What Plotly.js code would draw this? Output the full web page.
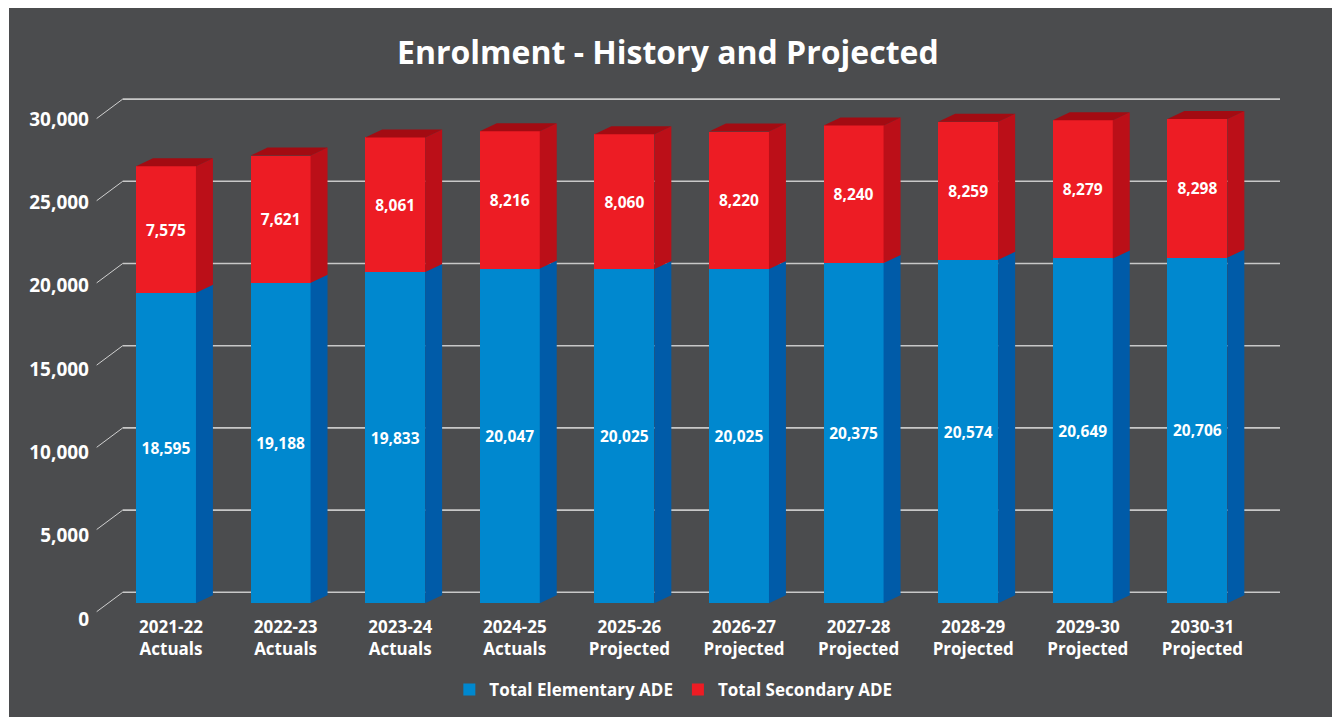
<!DOCTYPE html>
<html>
<head>
<meta charset="utf-8">
<script src="https://cdn.plot.ly/plotly-3.0.1.min.js"></script>
<style>
  html, body { margin: 0; padding: 0; background: #ffffff; }
  #chart { position: absolute; left: 9px; top: 8px; width: 1323px; height: 709px; }
</style>
</head>
<body>
<div id="chart"></div>
<script>
// ---- data ----
const categories = ['2021-22','2022-23','2023-24','2024-25','2025-26','2026-27','2027-28','2028-29','2029-30','2030-31'];
const periodTypes = ['Actuals','Actuals','Actuals','Actuals','Projected','Projected','Projected','Projected','Projected','Projected'];
const elementary = [18595, 19188, 19833, 20047, 20025, 20025, 20375, 20574, 20649, 20706];
const secondary  = [7575, 7621, 8061, 8216, 8060, 8220, 8240, 8259, 8279, 8298];
const yTickValues = [0, 5000, 10000, 15000, 20000, 25000, 30000];
const seriesNames = ['Total Elementary ADE', 'Total Secondary ADE'];

// ---- styling ----
const BG = '#4b4c4e';
const BLUE = '#0088cf', BLUE_SIDE = '#005ba8';
const RED = '#ed1c24', RED_SIDE = '#bb0f18', RED_TOP = '#a30b12';
const FONT = 'Open Sans, Lato, sans-serif';
const BAR_W = 0.523;   // bar width in category units
const DX = 0.148;      // 3D depth, x (category units)
const DY = 479;        // 3D depth, y (value units)

const xIdx = categories.map((c, i) => i);
const tickText = categories.map((c, i) => c + '<br>' + periodTypes[i]);
const totals = elementary.map((e, i) => e + secondary[i]);

// 3D faces built from the data
const blueSideX = [], blueSideY = [], redSideX = [], redSideY = [], topX = [], topY = [];
xIdx.forEach(i => {
  const xr = i + BAR_W / 2, xl = i - BAR_W / 2;
  const e = elementary[i], t = totals[i];
  blueSideX.push(xr, xr + DX, xr + DX, xr, xr, null);
  blueSideY.push(0, DY, e + DY, e, 0, null);
  redSideX.push(xr, xr + DX, xr + DX, xr, xr, null);
  redSideY.push(e, e + DY, t + DY, t, e, null);
  topX.push(xl, xr, xr + DX, xl + DX, xl, null);
  topY.push(t, t, t + DY, t + DY, t, null);
});

const labelFont = {family: FONT, size: 15.5, color: '#ffffff', weight: 700};

const traces = [
  {type: 'bar', name: seriesNames[0], x: xIdx, y: elementary, width: BAR_W,
   marker: {color: BLUE, line: {width: 0}},
   texttemplate: '%{y:,}', textposition: 'inside', insidetextanchor: 'middle',
   textangle: 0, constraintext: 'none', textfont: labelFont, hoverinfo: 'skip'},
  {type: 'bar', name: seriesNames[1], x: xIdx, y: secondary, width: BAR_W,
   marker: {color: RED, line: {width: 0}},
   texttemplate: '%{y:,}', textposition: 'inside', insidetextanchor: 'middle',
   textangle: 0, constraintext: 'none', textfont: labelFont, hoverinfo: 'skip'},
  {type: 'scatter', mode: 'none', x: blueSideX, y: blueSideY, fill: 'toself',
   fillcolor: BLUE_SIDE, showlegend: false, hoverinfo: 'skip'},
  {type: 'scatter', mode: 'none', x: redSideX, y: redSideY, fill: 'toself',
   fillcolor: RED_SIDE, showlegend: false, hoverinfo: 'skip'},
  {type: 'scatter', mode: 'none', x: topX, y: topY, fill: 'toself',
   fillcolor: RED_TOP, showlegend: false, hoverinfo: 'skip'},
  // empty trace so that the tick-label axis (y2) gets its own subplot and is drawn
  {type: 'scatter', mode: 'none', x: [], y: [], yaxis: 'y2', showlegend: false, hoverinfo: 'skip'}
];

// back-wall gridlines + floor diagonals
const shapes = [];
yTickValues.forEach(v => {
  shapes.push({type: 'line', layer: 'below', xref: 'paper', yref: 'y3',
    x0: 0.0233, x1: 0.9958, y0: v, y1: v, line: {color: '#c8c8c8', width: 1.6}});
  shapes.push({type: 'line', layer: 'below', xref: 'paper', yref: 'y3',
    x0: 0.0014, x1: 0.0233, y0: v - 1180, y1: v, line: {color: '#d0d0d0', width: 1}});
});

const layout = {
  width: 1323, height: 709,
  paper_bgcolor: BG, plot_bgcolor: BG,
  margin: {l: 86, r: 47, t: 82, b: 92, autoexpand: false},
  barmode: 'stack',
  showlegend: true,
  title: {text: 'Enrolment - History and Projected', xref: 'container', yref: 'container',
          x: 0.498, xanchor: 'center', y: 0.9365, yanchor: 'middle',
          font: {family: FONT, size: 32, color: '#ffffff', weight: 700}},
  xaxis: {type: 'linear', range: [-0.6195, 9.7644], tickvals: xIdx, ticktext: tickText,
          showgrid: false, zeroline: false, showline: false, ticks: '',
          ticklabelshift: 5, ticklabelstandoff: -10,
          tickfont: {family: FONT, size: 17, color: '#ffffff', weight: 700}, fixedrange: true},
  yaxis: {range: [-1299, 30737], showgrid: false, zeroline: false, showline: false,
          showticklabels: false, ticks: '', fixedrange: true},
  yaxis2: {overlaying: 'y', side: 'left', anchor: 'x', range: [-360, 31740], tickmode: 'array',
           tickvals: yTickValues, tickformat: ',d', showgrid: false, zeroline: false,
           showline: false, ticks: '', ticklabelstandoff: 5, showticklabels: true,
           tickfont: {family: FONT, size: 19, color: '#ffffff', weight: 700}, fixedrange: true},
  yaxis3: {overlaying: 'y', side: 'left', range: [-1989, 30553], showgrid: false,
           zeroline: false, showline: false, showticklabels: false, ticks: '', fixedrange: true},
  legend: {orientation: 'h', traceorder: 'normal', xref: 'paper', yref: 'paper', x: 0.486,
           xanchor: 'center', y: -0.1215, yanchor: 'middle', bgcolor: 'rgba(0,0,0,0)',
           font: {family: FONT, size: 17, color: '#ffffff', weight: 700}},
  shapes: shapes
};

Plotly.newPlot('chart', traces, layout, {displayModeBar: false, staticPlot: true});
</script>
</body>
</html>
